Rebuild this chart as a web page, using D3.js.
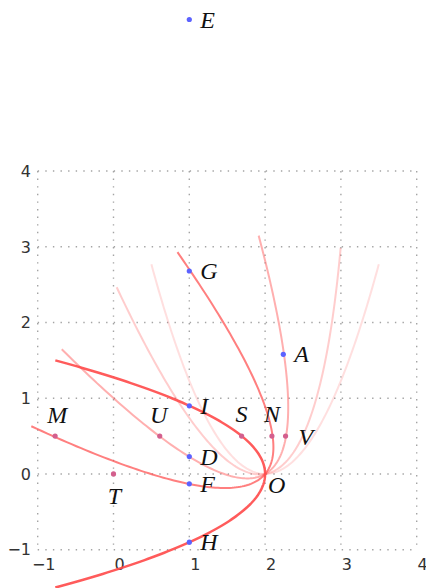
<!DOCTYPE html>
<html lang="en">
<head>
<meta charset="UTF-8">
<title>parabolas</title>
<script src="https://cdn.jsdelivr.net/npm/d3@7"></script>
<style>
  body { margin: 0; background: #fff; }
  .grid line { stroke: #a4a4a4; stroke-width: 1.4; stroke-dasharray: 1.4 6.2; }
  .tick-label { font-family: "DejaVu Sans", sans-serif; font-size: 16px; fill: #333; }
  .pt-label { font-family: "Liberation Serif", serif; font-style: italic; font-size: 24px; fill: #111; }
  .curve { fill: none; stroke: #ff4d4d; }
</style>
</head>
<body>
<div id="chart"></div>
<script>
// board grid / tick values
var ticks = [-1, 0, 1, 2, 3, 4];

// parabolas: same shape, common vertex O, axis rotated
var vertex = [2, 0];
var shape = 1.23;        // u = shape * v^2 along the axis
var armLength = 1.5;     // v from -armLength to armLength
var axisAngles = [90, 100, 120, 140, 180];

// blue points (labels to the right)
var blueNames = ["E", "G", "A", "I", "D", "F", "H"];
var blueX = [1, 1, 2.24, 1, 1, 1, 1];
var blueY = [6, 2.68, 1.58, 0.9, 0.23, -0.13, -0.9];

// pink points
var pinkNames = ["M", "U", "S", "N", "V", "T"];
var pinkX = [-0.77, 0.61, 1.69, 2.09, 2.27, 0];
var pinkY = [0.5, 0.5, 0.5, 0.5, 0.5, 0];

// styles
var curveOpacity = [0.18, 0.28, 0.45, 0.72, 0.92];
var curveWidth = [2, 2, 2, 2, 2.5];
var pinkOffset = {M: [2, -21, "middle"], U: [-1, -21, "middle"], S: [0, -22, "middle"],
                  N: [0, -22, "middle"], V: [13, 1, "start"], T: [1, 22, "middle"]};

var width = 426, height = 588;

var svg = d3.select("#chart").append("svg")
    .attr("width", width)
    .attr("height", height);

var x = d3.scaleLinear().domain([-1, 4]).range([37.7, 416.7]);
var y = d3.scaleLinear().domain([-1, 4]).range([549.7, 171]);

// grid
var grid = svg.append("g").attr("class", "grid");
grid.selectAll(".v").data(ticks).enter().append("line")
    .attr("x1", function(d) { return x(d); })
    .attr("x2", function(d) { return x(d); })
    .attr("y1", y(4)).attr("y2", y(-1));
grid.selectAll(".h").data(ticks).enter().append("line")
    .attr("y1", function(d) { return y(d); })
    .attr("y2", function(d) { return y(d); })
    .attr("x1", x(-1)).attr("x2", x(4));

var fmt = d3.format("d");

svg.append("g").selectAll("text").data(ticks).enter().append("text")
    .attr("class", "tick-label")
    .attr("x", 31)
    .attr("y", function(d) { return y(d); })
    .attr("dy", "0.36em")
    .attr("text-anchor", "end")
    .text(fmt);

svg.append("g").selectAll("text").data(ticks).enter().append("text")
    .attr("class", "tick-label")
    .attr("x", function(d) { return x(d) + 6; })
    .attr("y", y(-1) + 15)
    .attr("dy", "0.36em")
    .attr("text-anchor", "middle")
    .text(fmt);

// parabolas
var line = d3.line()
    .x(function(d) { return x(d[0]); })
    .y(function(d) { return y(d[1]); });

var vs = d3.range(-armLength, armLength + 1e-9, 0.02);

function parabola(angle) {
  var t = angle * Math.PI / 180;
  var dx = Math.cos(t), dy = Math.sin(t);
  return vs.map(function(v) {
    var u = shape * v * v;
    return [vertex[0] + u * dx - v * dy, vertex[1] + u * dy + v * dx];
  });
}

svg.append("g").selectAll("path").data(axisAngles).enter().append("path")
    .attr("class", "curve")
    .attr("d", function(d) { return line(parabola(d)); })
    .attr("stroke-opacity", function(d, i) { return curveOpacity[i]; })
    .attr("stroke-width", function(d, i) { return curveWidth[i]; });

// blue points
var blue = blueNames.map(function(n, i) { return {name: n, x: blueX[i], y: blueY[i]}; });
var bg = svg.append("g");
bg.selectAll("circle").data(blue).enter().append("circle")
    .attr("cx", function(d) { return x(d.x); })
    .attr("cy", function(d) { return y(d.y); })
    .attr("r", 2.6)
    .attr("fill", "#5c62ff");
bg.selectAll("text").data(blue).enter().append("text")
    .attr("class", "pt-label")
    .attr("x", function(d) { return x(d.x) + 11; })
    .attr("y", function(d) { return y(d.y); })
    .attr("dy", "0.34em")
    .text(function(d) { return d.name; });

// pink points
var pink = pinkNames.map(function(n, i) { return {name: n, x: pinkX[i], y: pinkY[i]}; });
var pg = svg.append("g");
pg.selectAll("circle").data(pink).enter().append("circle")
    .attr("cx", function(d) { return x(d.x); })
    .attr("cy", function(d) { return y(d.y); })
    .attr("r", 2.6)
    .attr("fill", "#d35f8d");
pg.selectAll("text").data(pink).enter().append("text")
    .attr("class", "pt-label")
    .attr("x", function(d) { return x(d.x) + pinkOffset[d.name][0]; })
    .attr("y", function(d) { return y(d.y) + pinkOffset[d.name][1]; })
    .attr("dy", "0.34em")
    .attr("text-anchor", function(d) { return pinkOffset[d.name][2]; })
    .text(function(d) { return d.name; });

// vertex label
svg.append("text")
    .attr("class", "pt-label")
    .attr("x", x(vertex[0]) + 3)
    .attr("y", y(vertex[1]) + 11)
    .attr("dy", "0.34em")
    .text("O");
</script>
</body>
</html>
